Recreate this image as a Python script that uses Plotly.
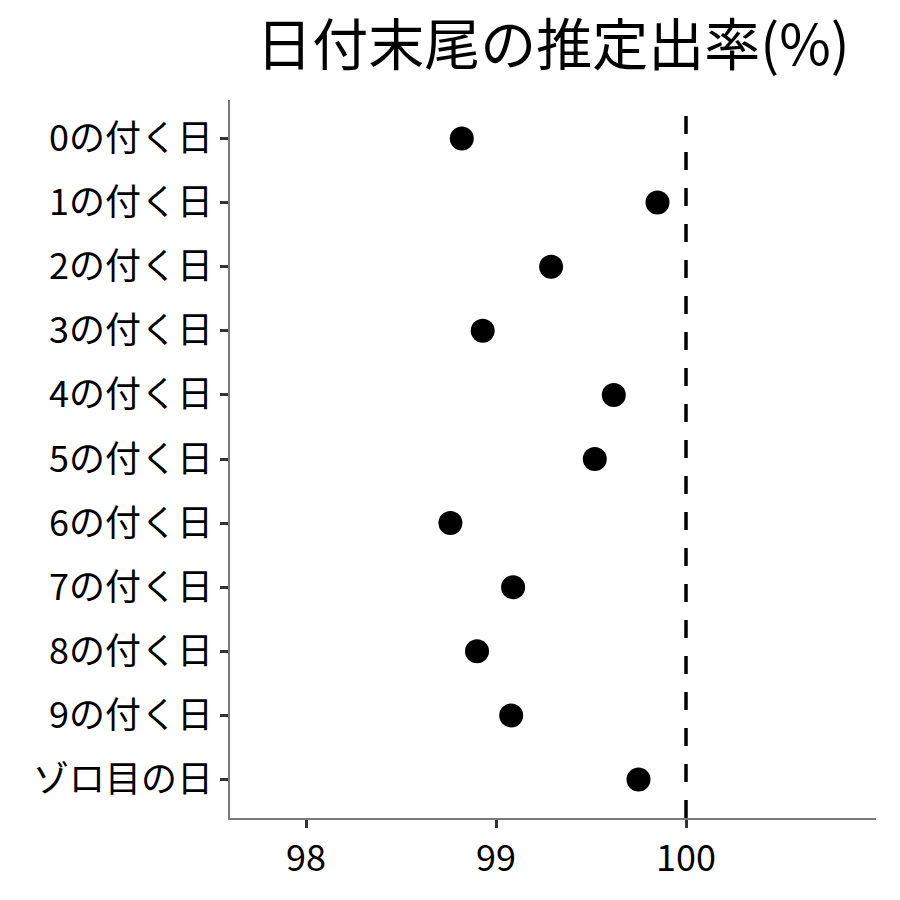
import plotly.graph_objects as go

categories = ["0の付く日", "1の付く日", "2の付く日", "3の付く日", "4の付く日",
              "5の付く日", "6の付く日", "7の付く日", "8の付く日", "9の付く日", "ゾロ目の日"]
rates = [98.82, 99.85, 99.29, 98.93, 99.62, 99.52, 98.76, 99.09, 98.90, 99.08, 99.75]
x_ticks = [98, 99, 100]
reference_value = 100

FONT = "Noto Sans CJK JP"

fig = go.Figure()
fig.add_trace(go.Scatter(
    x=rates, y=categories, mode="markers",
    marker=dict(color="black", size=24),
    showlegend=False, hoverinfo="x+y",
))
fig.add_shape(type="line", xref="x", yref="paper", x0=reference_value, x1=reference_value,
              y0=0, y1=1, line=dict(color="black", width=3.5, dash="18px,18px"))

fig.update_layout(
    width=892, height=892,
    margin=dict(l=222, r=24, t=92, b=82),
    paper_bgcolor="white", plot_bgcolor="white",
    font=dict(family=FONT, color="black"),
    title=dict(text="日付末尾の推定出率(%)", x=0.5, xref="paper", xanchor="center",
               y=0.958, yref="container", yanchor="middle",
               font=dict(family=FONT, size=56, color="black")),
    xaxis=dict(range=[97.6, 101.0], tickvals=x_ticks, showgrid=False, zeroline=False,
               showline=True, linecolor="#7a7a7a", linewidth=1.5,
               ticks="outside", ticklen=8, tickwidth=2.5, tickcolor="#333333",
               tickfont=dict(family=FONT, size=36, color="black")),
    yaxis=dict(categoryorder="array", categoryarray=categories, range=[10.6, -0.6],
               showgrid=False, zeroline=False,
               showline=True, linecolor="#7a7a7a", linewidth=1.5,
               ticks="outside", ticklen=8, tickwidth=2.5, tickcolor="#333333",
               tickfont=dict(family=FONT, size=36, color="black")),
)

fig.write_html("out.html")
